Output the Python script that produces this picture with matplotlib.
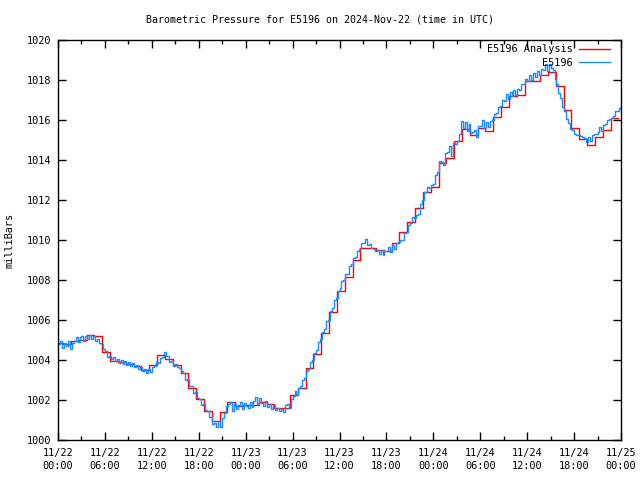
import numpy as np
import matplotlib
matplotlib.use("Agg")
import matplotlib.pyplot as plt
from matplotlib.ticker import MultipleLocator

station = "E5196"
title = "Barometric Pressure for E5196 on 2024-Nov-22 (time in UTC)"

# hourly analysis, each value held from HH-0:20 to HH+0:40 (hours since 11/22 00:00)
anal_hours = np.arange(73) - 1 / 3
anal_mb = [
    1004.87, 1004.80, 1004.95, 1005.00, 1005.25, 1005.20, 1004.42, 1003.97,
    1003.90, 1003.80, 1003.70, 1003.50, 1003.75, 1004.25, 1004.03, 1003.75,
    1003.33, 1002.58, 1002.03, 1001.43, 1000.97, 1001.42, 1001.90, 1001.72,
    1001.75, 1001.75, 1001.92, 1001.80, 1001.60, 1001.60, 1002.25, 1002.60,
    1003.58, 1004.30, 1005.37, 1006.40, 1007.45, 1008.15, 1009.00, 1009.60,
    1009.60, 1009.50, 1009.45, 1009.85, 1010.40, 1010.90, 1011.58, 1012.42,
    1012.67, 1013.83, 1014.10, 1014.97, 1015.55, 1015.25, 1015.60, 1015.45,
    1016.13, 1016.63, 1017.20, 1017.25, 1017.97, 1017.97, 1018.25, 1018.40,
    1017.70, 1016.50, 1015.58, 1015.03, 1014.75, 1015.13, 1015.50, 1016.12,
    1016.12,
]

# station observations every 15 minutes (two hours per row)
obs_hours = np.arange(289) * 0.25
obs_mb = [
    1004.80, 1004.95, 1004.60, 1004.85, 1004.70, 1004.95, 1004.55, 1004.85,
    1004.95, 1005.15, 1004.90, 1005.15, 1005.20, 1004.95, 1005.20, 1005.05,
    1005.25, 1005.05, 1005.20, 1004.95, 1005.05, 1004.85, 1004.80, 1004.55,
    1004.45, 1004.15, 1004.20, 1004.05, 1004.15, 1003.95, 1004.05, 1003.85,
    1004.00, 1003.80, 1003.95, 1003.75, 1003.90, 1003.70, 1003.85, 1003.65,
    1003.75, 1003.55, 1003.65, 1003.45, 1003.55, 1003.35, 1003.55, 1003.40,
    1003.65, 1003.70, 1003.90, 1003.85, 1004.10, 1004.15, 1004.40, 1004.20,
    1004.20, 1003.90, 1003.95, 1003.70, 1003.80, 1003.65, 1003.60, 1003.45,
    1003.35, 1003.00, 1003.05, 1002.70, 1002.70, 1002.35, 1002.40, 1002.10,
    1002.05, 1001.75, 1001.80, 1001.50, 1001.45, 1001.15, 1001.15, 1000.80,
    1000.85, 1000.65, 1000.95, 1000.65, 1001.10, 1001.35, 1001.70, 1001.80,
    1001.90, 1001.45, 1001.80, 1001.55, 1001.75, 1001.90, 1001.55, 1001.85,
    1001.70, 1001.60, 1001.90, 1001.65, 1001.95, 1002.15, 1001.80, 1002.10,
    1001.85, 1001.70, 1001.95, 1001.65, 1001.80, 1001.55, 1001.75, 1001.50,
    1001.60, 1001.45, 1001.55, 1001.40, 1001.75, 1001.80, 1001.60, 1002.05,
    1002.20, 1002.45, 1002.25, 1002.60, 1002.70, 1003.00, 1003.10, 1003.45,
    1003.55, 1003.90, 1004.00, 1004.35, 1004.50, 1004.90, 1005.05, 1005.40,
    1005.55, 1005.95, 1006.00, 1006.45, 1006.60, 1007.00, 1007.10, 1007.45,
    1007.60, 1007.95, 1008.00, 1008.30, 1008.30, 1008.70, 1008.80, 1009.10,
    1009.15, 1009.45, 1009.55, 1009.85, 1009.85, 1010.05, 1009.75, 1009.80,
    1009.60, 1009.55, 1009.45, 1009.50, 1009.30, 1009.50, 1009.25, 1009.45,
    1009.45, 1009.65, 1009.40, 1009.75, 1009.55, 1009.85, 1009.90, 1010.00,
    1010.00, 1010.35, 1010.40, 1010.75, 1010.85, 1011.15, 1011.10, 1011.25,
    1011.30, 1011.80, 1012.00, 1012.40, 1012.40, 1012.65, 1012.60, 1012.75,
    1012.80, 1013.25, 1013.40, 1013.95, 1013.90, 1013.75, 1014.35, 1014.40,
    1014.70, 1014.20, 1014.85, 1014.80, 1014.95, 1015.30, 1015.95, 1015.60,
    1015.90, 1015.45, 1015.80, 1015.35, 1015.40, 1015.50, 1015.15, 1015.70,
    1015.70, 1016.00, 1015.60, 1015.90, 1015.65, 1015.95, 1016.00, 1016.30,
    1016.35, 1016.65, 1016.70, 1017.00, 1016.95, 1017.30, 1017.05, 1017.40,
    1017.20, 1017.50, 1017.25, 1017.55, 1017.50, 1017.80, 1017.80, 1018.05,
    1017.95, 1018.25, 1018.00, 1018.35, 1018.15, 1018.45, 1018.25, 1018.55,
    1018.50, 1018.80, 1018.45, 1018.80, 1018.60, 1018.50, 1018.05, 1017.80,
    1017.35, 1017.10, 1016.65, 1016.45, 1016.05, 1015.85, 1015.55, 1015.50,
    1015.30, 1015.25, 1015.25, 1015.20, 1015.15, 1015.10, 1014.90, 1015.15,
    1014.95, 1015.25, 1015.30, 1015.30, 1015.40, 1015.65, 1015.45, 1015.75,
    1015.80, 1016.00, 1016.05, 1016.10, 1016.20, 1016.45, 1016.45, 1016.60,
    1016.70,
]

tick_hours = np.arange(0, 73, 6)
tick_labels = ["11/22\n00:00", "11/22\n06:00", "11/22\n12:00", "11/22\n18:00",
               "11/23\n00:00", "11/23\n06:00", "11/23\n12:00", "11/23\n18:00",
               "11/24\n00:00", "11/24\n06:00", "11/24\n12:00", "11/24\n18:00",
               "11/25\n00:00"]

plt.rcParams['font.family'] = ['DejaVu Sans Mono']
plt.rcParams['font.size'] = 7.4

fig = plt.figure(figsize=(6.4, 4.8), dpi=100)
ax = fig.add_axes([58 / 640, 40 / 480, 563 / 640, 400 / 480])

ax.plot(anal_hours, anal_mb, color='#ff0000', lw=1.0, drawstyle='steps-post',
        label=station + " Analysis")
ax.plot(obs_hours, obs_mb, color='#1a8cff', lw=1.0, drawstyle='steps-post',
        label=station)

ax.set_xlim(0, 72)
ax.set_ylim(1000, 1020)
ax.yaxis.set_major_locator(MultipleLocator(2))
ax.set_xticks(tick_hours)
ax.set_xticklabels(tick_labels, linespacing=1.3)
ax.xaxis.set_minor_locator(MultipleLocator(3))

ax.tick_params(which='both', direction='in', top=True, right=True, color='black', width=1)
ax.tick_params(which='major', length=6, pad=6)
ax.tick_params(which='minor', length=3)
ax.tick_params(axis='y', pad=5)
for s in ax.spines.values():
    s.set_linewidth(1)
    s.set_color('black')

fig.text(0.5, 1 - 20 / 480, title, ha='center', va='center', fontsize=7.2)
fig.text(10 / 640, 0.5, "milliBars", rotation=90, ha='center', va='center')

ax.legend(loc='upper right', bbox_to_anchor=(1 - 7 / 563, 1), frameon=False,
          markerfirst=False, handlelength=3, handletextpad=0.6, labelspacing=0.35,
          borderaxespad=0)

fig.savefig("out.png", dpi=100)
